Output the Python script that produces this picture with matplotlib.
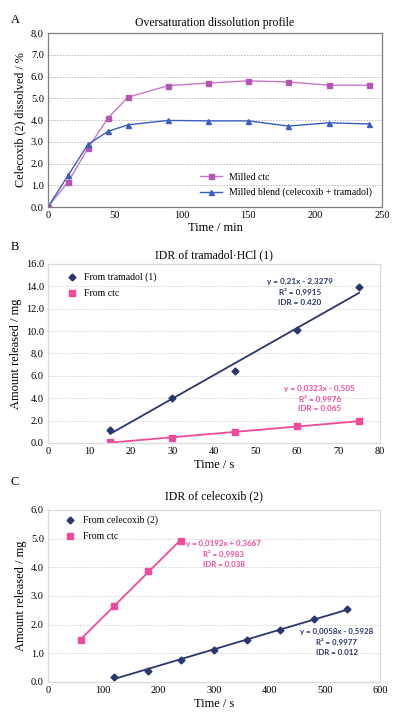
import numpy as np
import matplotlib
matplotlib.use("Agg")
import matplotlib.pyplot as plt

plt.rcParams['font.family'] = ['Liberation Serif', 'DejaVu Serif']

# panel A: oversaturation dissolution profile
time_a = [0, 15, 30, 45, 60, 90, 120, 150, 180, 210, 240]
milled_ctc = [0.0, 1.15, 2.7, 4.1, 5.05, 5.58, 5.7, 5.8, 5.75, 5.6, 5.6]
milled_blend = [0.0, 1.45, 2.88, 3.48, 3.78, 3.98, 3.96, 3.96, 3.72, 3.87, 3.82]

# panel B: IDR of tramadol.HCl
time_b = [15, 30, 45, 60, 75]
tramadol_b = [1.2, 4.0, 6.4, 10.1, 13.9]
ctc_b = [0.05, 0.47, 1.0, 1.5, 1.93]
ann_b_tram = "y = 0,21x - 2,3279\nR² = 0,9915\nIDR = 0.420"
ann_b_ctc = "y = 0,0323x - 0,505\nR² = 0,9976\nIDR = 0.065"

# panel C: IDR of celecoxib
time_c_ctc = [60, 120, 180, 240]
ctc_c = [1.48, 2.66, 3.88, 4.91]
time_c_cel = [120, 180, 240, 300, 360, 420, 480, 540]
celecoxib_c = [0.17, 0.40, 0.78, 1.13, 1.48, 1.83, 2.18, 2.53]
ann_c_ctc = "y = 0,0192x + 0,3667\nR² = 0,9983\nIDR = 0.038"
ann_c_cel = "y = 0,0058x - 0,5928\nR² = 0,9977\nIDR = 0.012"

NAVY = "#2b366e"
PINK = "#f04a9c"
PURPLE = "#b455b4"
PURPLE_LINE = "#c878c8"
BLUE = "#3a5ec4"
ANN_FONT = ['Lato', 'DejaVu Sans']

fig = plt.figure(figsize=(3.94, 7.19), dpi=100)
axA = fig.add_axes([0.1218, 0.7121, 0.8477, 0.2420])
axB = fig.add_axes([0.1218, 0.3839, 0.8426, 0.2490])
axC = fig.add_axes([0.1218, 0.0515, 0.8426, 0.2392])


def style(ax, xlim, xstep, ylim, ystep, spine_col, grid_col):
    ax.set_xlim(*xlim)
    ax.set_ylim(*ylim)
    ax.set_xticks(np.arange(xlim[0], xlim[1] + 0.1, xstep))
    ax.set_yticks(np.arange(ylim[0], ylim[1] + 0.01, ystep))
    ax.set_yticklabels([f"{v:.1f}" for v in ax.get_yticks()])
    ax.yaxis.grid(True, linestyle=(0, (1.5, 1.5)), color=grid_col, linewidth=0.7)
    ax.set_axisbelow(True)
    for s in ax.spines.values():
        s.set_color(spine_col)
        s.set_linewidth(0.9)
    ax.tick_params(labelsize=7.5, length=0, pad=3)


# ---- A ----
axA.plot(time_a, milled_ctc, color=PURPLE_LINE, marker='s', ms=3.6, lw=1.0,
         mfc=PURPLE, mec=PURPLE, label="Milled ctc")
axA.plot(time_a, milled_blend, color=BLUE, marker='^', ms=3.6, lw=1.0,
         label="Milled blend (celecoxib + tramadol)")
style(axA, (0, 250), 50, (0, 8), 1, "#7f7f7f", "#b8b8b8")
axA.set_title("Oversaturation dissolution profile", fontsize=8.5, pad=5)
axA.set_xlabel("Time / min", fontsize=9, labelpad=1)
axA.set_ylabel("Celecoxib (2) dissolved / %", fontsize=8.7, labelpad=3)
axA.legend(loc='lower right', frameon=False, fontsize=7, handlelength=2.2,
           borderaxespad=0.6, labelspacing=0.6)

# ---- B ----
for x, y, col, mk, ms, lab in [(time_b, tramadol_b, NAVY, 'D', 3.5, "From tramadol (1)"),
                               (time_b, ctc_b, PINK, 's', 5, "From ctc")]:
    k, b = np.polyfit(x, y, 1)
    xs = np.array([min(x), max(x)])
    axB.plot(xs, k * xs + b, color=col, lw=1.3)
    axB.plot(x, y, ls='none', marker=mk, ms=ms, color=col, label=lab)
style(axB, (0, 80), 10, (0, 16), 2, "#dcdcdc", "#d4d4d4")
axB.set_title("IDR of tramadol·HCl (1)", fontsize=8.5, pad=4)
axB.set_xlabel("Time / s", fontsize=9, labelpad=2)
axB.set_ylabel("Amount released / mg", fontsize=9, labelpad=3)
axB.legend(loc='upper left', frameon=False, fontsize=7, handlelength=1.0,
           borderaxespad=0.5, labelspacing=0.7, bbox_to_anchor=(0.03, 1.0))
axB.text(60.7, 13.5, ann_b_tram, color=NAVY, fontsize=5.9, fontweight='bold',
         family=ANN_FONT, ha='center', va='center', linespacing=1.4)
axB.text(65.5, 4.0, ann_b_ctc, color=PINK, fontsize=5.9, fontweight='bold',
         family=ANN_FONT, ha='center', va='center', linespacing=1.4)

# ---- C ----
for x, y, col, mk, ms, lab in [(time_c_cel, celecoxib_c, NAVY, 'D', 3.5, "From celecoxib (2)"),
                               (time_c_ctc, ctc_c, PINK, 's', 5, "From ctc")]:
    k, b = np.polyfit(x, y, 1)
    xs = np.array([min(x), max(x)])
    axC.plot(xs, k * xs + b, color=col, lw=1.3)
    axC.plot(x, y, ls='none', marker=mk, ms=ms, color=col, label=lab)
style(axC, (0, 600), 100, (0, 6), 1, "#dcdcdc", "#d4d4d4")
axC.set_title("IDR of celecoxib (2)", fontsize=8.5, pad=8)
axC.set_xlabel("Time / s", fontsize=9, labelpad=2)
axC.set_ylabel("Amount released / mg", fontsize=9, labelpad=3)
axC.legend(loc='upper left', frameon=False, fontsize=7, handlelength=1.0,
           borderaxespad=0.2, labelspacing=0.7, bbox_to_anchor=(0.035, 1.0))
axC.text(250, 4.47, ann_c_ctc, color=PINK, fontsize=5.7, fontweight='bold',
         family=ANN_FONT, ha='left', va='center', multialignment='center',
         linespacing=1.4)
axC.text(522, 1.40, ann_c_cel, color=NAVY, fontsize=5.7, fontweight='bold',
         family=ANN_FONT, ha='center', va='center', linespacing=1.4)

# panel letters
for lab, ypix in [("A", 20), ("B", 247), ("C", 482)]:
    fig.text(15 / 394, 1 - ypix / 719, lab, fontsize=9, ha='center', va='center')

fig.savefig("out.png", dpi=100)
